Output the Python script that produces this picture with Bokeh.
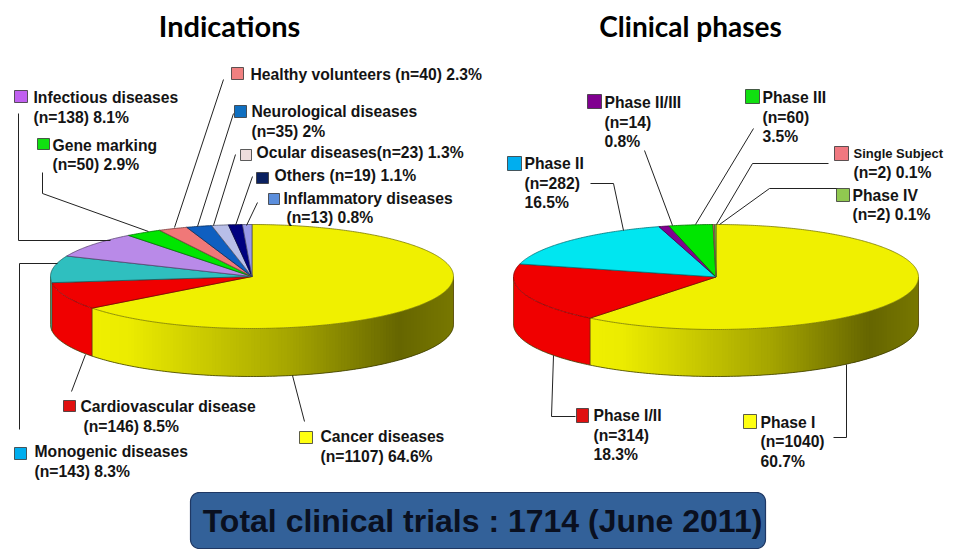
import numpy as np
from bokeh.plotting import figure
from bokeh.models import Range1d
from bokeh.core.properties import value
from bokeh.embed import file_html
from bokeh.resources import INLINE

# ---- data ----
ind_names = ["Cancer diseases", "Cardiovascular disease", "Monogenic diseases", "Infectious diseases",
             "Gene marking", "Healthy volunteers", "Neurological diseases", "Ocular diseases",
             "Others", "Inflammatory diseases"]
ind_n = [1107, 146, 143, 138, 50, 40, 35, 23, 19, 13]
ind_pct = ["64.6", "8.5", "8.3", "8.1", "2.9", "2.3", "2", "1.3", "1.1", "0.8"]
phase_names = ["Phase I", "Phase I/II", "Phase II", "Phase II/III", "Phase III", "Single Subject", "Phase IV"]
phase_n = [1040, 314, 282, 14, 60, 2, 2]
phase_pct = ["60.7", "18.3", "16.5", "0.8", "3.5", "0.1", "0.1"]
total_text = "Total clinical trials : 1714 (June 2011)"

# ---- styles ----
ind_colors = ["#F0F000", "#F00000", "#2FBFBF", "#B98AE8", "#00E600", "#F07878", "#0F5FC0", "#B8BEE8", "#000080", "#9A9AE8"]
ind_swatch = ["#FFFF10", "#E01010", "#00AEEF", "#C060F0", "#10E010", "#F08080", "#0F6FC0", "#EEDDDD", "#0A2060", "#5B8EDC"]
phase_colors = ["#F0F000", "#F00000", "#00E6F0", "#800090", "#00E600", "#F07880", "#90C850"]
phase_swatch = ["#FFFF10", "#E01010", "#00AEEF", "#800090", "#10E010", "#F07880", "#90C850"]
INK = "#141414"
FONT = "Liberation Sans"

p = figure(width=950, height=549, x_range=Range1d(0, 950), y_range=Range1d(549, 0),
           output_backend="svg", toolbar_location=None, min_border=0,
           outline_line_color=None, background_fill_color="white", border_fill_color="white")
p.axis.visible = False
p.grid.visible = False


def side_rgb(x, x0, x1):
    f = (x - x0) / (x1 - x0)
    fs = [0, .10, .55, .85, 1]
    r = [240, 236, 165, 102, 120]
    v = int(np.interp(f, fs, r))
    return "#%02x%02x00" % (v, v)


def edge(c):
    v = [int(c[i:i + 2], 16) // 2 for i in (1, 3, 5)]
    return "#%02x%02x%02x" % tuple(v)


def pie(vals, colors, cx, cy, a, b, depth):
    fr = np.cumsum([0] + list(vals)) / sum(vals) * 2 * np.pi
    X = lambda t: cx + a * np.sin(t)
    Y = lambda t: cy - b * np.cos(t)
    for i, c in enumerate(colors):
        lo, hi = max(fr[i], np.pi / 2), min(fr[i + 1], 1.5 * np.pi)
        if hi <= lo:
            continue
        if i > 0:
            ts = np.linspace(lo, hi, 60)
            p.patch(list(X(ts)) + list(X(ts[::-1])), list(Y(ts)) + list(Y(ts[::-1]) + depth),
                    fill_color=c, line_color=None)
        else:
            # gradient: strips 3 px wide, painted left to right, each overlapping the next
            x_left, x_right = X(hi), X(lo)
            grid = np.arange(x_left, x_right + 3, 3.0)
            for x0 in grid:
                x1 = min(x0 + 6, x_right)
                t0 = np.pi - np.arcsin(np.clip((x0 - cx) / a, -1, 1))
                t1 = np.pi - np.arcsin(np.clip((x1 - cx) / a, -1, 1))
                if t0 <= t1:
                    continue
                ts = np.linspace(t1, t0, 4)
                col = side_rgb(x0 + 1.5, x_left, x_right)
                p.patch(list(X(ts)) + list(X(ts[::-1])), list(Y(ts)) + list(Y(ts[::-1]) + depth),
                        fill_color=col, line_color=None)
    # side outlines
    tb = np.linspace(np.pi / 2, 1.5 * np.pi, 200)
    p.line(X(tb), Y(tb) + depth, line_color="#3c3c00", line_width=0.8)
    for t in [np.pi / 2, 1.5 * np.pi] + [f for f in fr[1:-1] if np.pi / 2 < f < 1.5 * np.pi]:
        p.line([X(t), X(t)], [Y(t), Y(t) + depth], line_color="#4a3a00", line_width=0.7)
    # top slices
    xs, ys = [], []
    for i in range(len(colors)):
        ts = np.linspace(fr[i], fr[i + 1], max(3, int((fr[i + 1] - fr[i]) / 0.01)))
        xs.append([cx] + list(X(ts)))
        ys.append([cy] + list(Y(ts)))
    p.patches(xs, ys, fill_color=colors, line_color=[edge(c) for c in colors], line_width=0.8)


pie(ind_n, ind_colors, 251.5, 276, 201.5, 52, 48)
pie(phase_n, phase_colors, 715.5, 276.5, 202.5, 52.5, 47)

# ---- leader lines ----
leaders = [
    [(223, 79), (174, 227)], [(233, 113), (197, 226)], [(235, 154), (213, 225)],
    [(252, 176), (235, 225)], [(257, 202), (246, 225)],
    [(18, 113), (18, 240), (110, 240)], [(42, 172), (42, 193), (148, 231)],
    [(19, 429), (19, 263), (57, 263)], [(71, 391), (85, 354)], [(304, 421), (292, 375)],
    [(590, 183), (613, 183), (623, 230)], [(644, 150), (672, 225)], [(753, 128), (695, 224)],
    [(828, 163), (752, 163), (716, 224)], [(837, 188), (769, 188), (719, 224)],
    [(553, 355), (551, 416), (575, 416)], [(846, 364), (846, 437), (833, 437)],
]
p.multi_line([[q[0] for q in l] for l in leaders], [[q[1] for q in l] for l in leaders],
             line_color="#222222", line_width=1)

# ---- legends: index, swatch box, text rows (x, y) ----
ind_layout = [
    (0, (299, 431, 13, 12), [(320, 436), (320, 456)]),
    (1, (63, 400, 12, 11), [(80, 406), (83, 426)]),
    (2, (14, 447, 12, 12), [(34, 451), (34, 471)]),
    (3, (14, 90, 13, 12), [(33, 97), (33, 117)]),
    (4, (37, 138, 12, 11), [(52, 145), (52, 164)]),
    (5, (231, 67, 12, 12), [(250, 74)]),
    (6, (234, 105, 12, 12), [(251, 111), (251, 131)]),
    (7, (240, 149, 11, 11), [(256, 152)]),
    (8, (256, 172, 12, 11), [(274, 175)]),
    (9, (268, 193, 11, 11), [(283, 198), (286, 217)]),
]
phase_layout = [
    (0, (743, 414, 13, 14), [(760, 422), (760, 441), (760, 461)]),
    (1, (576, 408, 12, 14), [(593, 415), (593, 435), (593, 454)]),
    (2, (507, 156, 14, 14), [(524, 163), (524, 183), (524, 202)]),
    (3, (587, 94, 14, 14), [(604, 102), (604, 122), (604, 141)]),
    (4, (745, 89, 14, 14), [(762, 97), (762, 117), (762, 136)]),
    (5, (834, 146, 14, 14), [(853, 153), (853, 172)]),
    (6, (836, 188, 13, 13), [(852, 195), (852, 214)]),
]


def legend(layout, names, ns, pcts, swatch):
    for i, (sx, sy, sw, sh), rows in layout:
        p.quad(left=[sx], right=[sx + sw], top=[sy], bottom=[sy + sh], fill_color=swatch[i],
               line_color="#333333", line_width=0.8)
        tail = f"(n={ns[i]})"
        if len(rows) == 3:
            lines = [names[i], tail, pcts[i] + "%"]
        elif len(rows) == 2:
            lines = [names[i], f"{tail} {pcts[i]}%"]
        else:
            sep = "" if names[i].startswith("Ocular") else " "
            lines = [f"{names[i]}{sep}{tail} {pcts[i]}%"]
        for (tx, ty), s in zip(rows, lines):
            size = "13px" if s == "Single Subject" else "15.7px"
            p.text([tx], [ty], text=[s], text_font=value(FONT), text_font_style="bold",
                   text_font_size=size, text_color=INK, text_baseline="middle", text_align="left")


legend(ind_layout, ind_names, ind_n, ind_pct, ind_swatch)
legend(phase_layout, phase_names, phase_n, phase_pct, phase_swatch)

# ---- titles ----
for s, cx, size in (("Indications", 229, "29px"), ("Clinical phases", 690, "28px")):
    p.text([cx], [25], text=[s], text_font=value("Lato"), text_font_style="bold", text_font_size=size,
           text_color="black", text_align="center", text_baseline="middle")

# ---- total box ----
l, r, t, bt, rad = 190, 765, 492, 548, 9
arc = np.linspace(0, np.pi / 2, 10)
bx = list(r - rad + rad * np.sin(arc)) + list(r - rad + rad * np.cos(arc)) + \
     list(l + rad - rad * np.sin(arc)) + list(l + rad - rad * np.cos(arc))
by = list(t + rad - rad * np.cos(arc)) + list(bt - rad + rad * np.sin(arc)) + \
     list(bt - rad + rad * np.cos(arc)) + list(t + rad - rad * np.sin(arc))
p.patch(bx, by, fill_color="#336199", line_color="#1F3864", line_width=1.2)
p.text([482], [520], text=[total_text], text_font=value(FONT), text_font_style="bold", text_font_size="32px",
       text_color="#0A1020", text_align="center", text_baseline="middle")

open("out.html", "w").write(file_html(p, INLINE))
